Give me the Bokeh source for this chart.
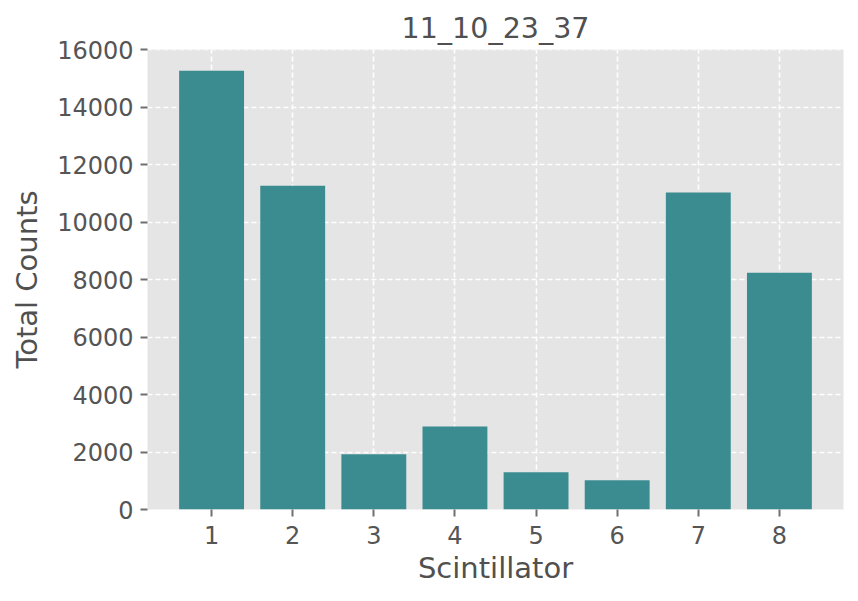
from bokeh.plotting import figure
from bokeh.models import FixedTicker, Range1d, ColumnDataSource
from bokeh.embed import file_html
from bokeh.resources import INLINE

scintillators = [1, 2, 3, 4, 5, 6, 7, 8]
counts = [15270, 11270, 1920, 2890, 1300, 1020, 11030, 8240]
y_ticks = [0, 2000, 4000, 6000, 8000, 10000, 12000, 14000, 16000]

src = ColumnDataSource(dict(x=scintillators, top=counts))

p = figure(width=850, height=587, output_backend="svg", toolbar_location=None,
           x_range=Range1d(0.21, 8.79), y_range=Range1d(0, 16010),
           title="11_10_23_37", min_border_left=147, min_border_right=7,
           min_border_top=49, min_border_bottom=78)

p.vbar(x="x", top="top", width=0.8, source=src, color="#3a8c91", line_color=None)

p.background_fill_color = "#e5e5e5"
p.outline_line_color = None
p.border_fill_color = "white"

p.title.text_font = "DejaVu Sans"
p.title.text_font_size = "28.5px"
p.title.text_font_style = "normal"
p.title.text_color = "#505050"
p.title.align = "center"
p.title.standoff = 9

p.xaxis.ticker = FixedTicker(ticks=scintillators)
p.yaxis.ticker = FixedTicker(ticks=y_ticks)
p.xaxis.axis_label = "Scintillator"
p.yaxis.axis_label = "Total Counts"
for ax in (p.xaxis, p.yaxis):
    ax.axis_line_color = None
    ax.major_tick_line_color = "#707070"
    ax.major_tick_line_width = 2
    ax.major_tick_out = 7
    ax.major_tick_in = 0
    ax.minor_tick_line_color = None
    ax.major_label_text_font = "DejaVu Sans"
    ax.major_label_text_font_size = "24px"
    ax.major_label_text_color = "#555555"
    ax.major_label_standoff = 7
    ax.axis_label_text_font = "DejaVu Sans"
    ax.axis_label_text_font_size = "29px"
    ax.axis_label_text_font_style = "normal"
    ax.axis_label_text_color = "#505050"
p.yaxis.major_label_orientation = "horizontal"
p.yaxis.axis_label_standoff = 10
p.xaxis.major_label_standoff = 9
p.xaxis.axis_label_standoff = 4

p.grid.grid_line_color = "white"
p.grid.grid_line_dash = "5 3"
p.grid.grid_line_width = 1.6
p.grid.grid_line_alpha = 1.0
p.xgrid.ticker = FixedTicker(ticks=scintillators)

open("out.html", "w").write(file_html(p, INLINE))
